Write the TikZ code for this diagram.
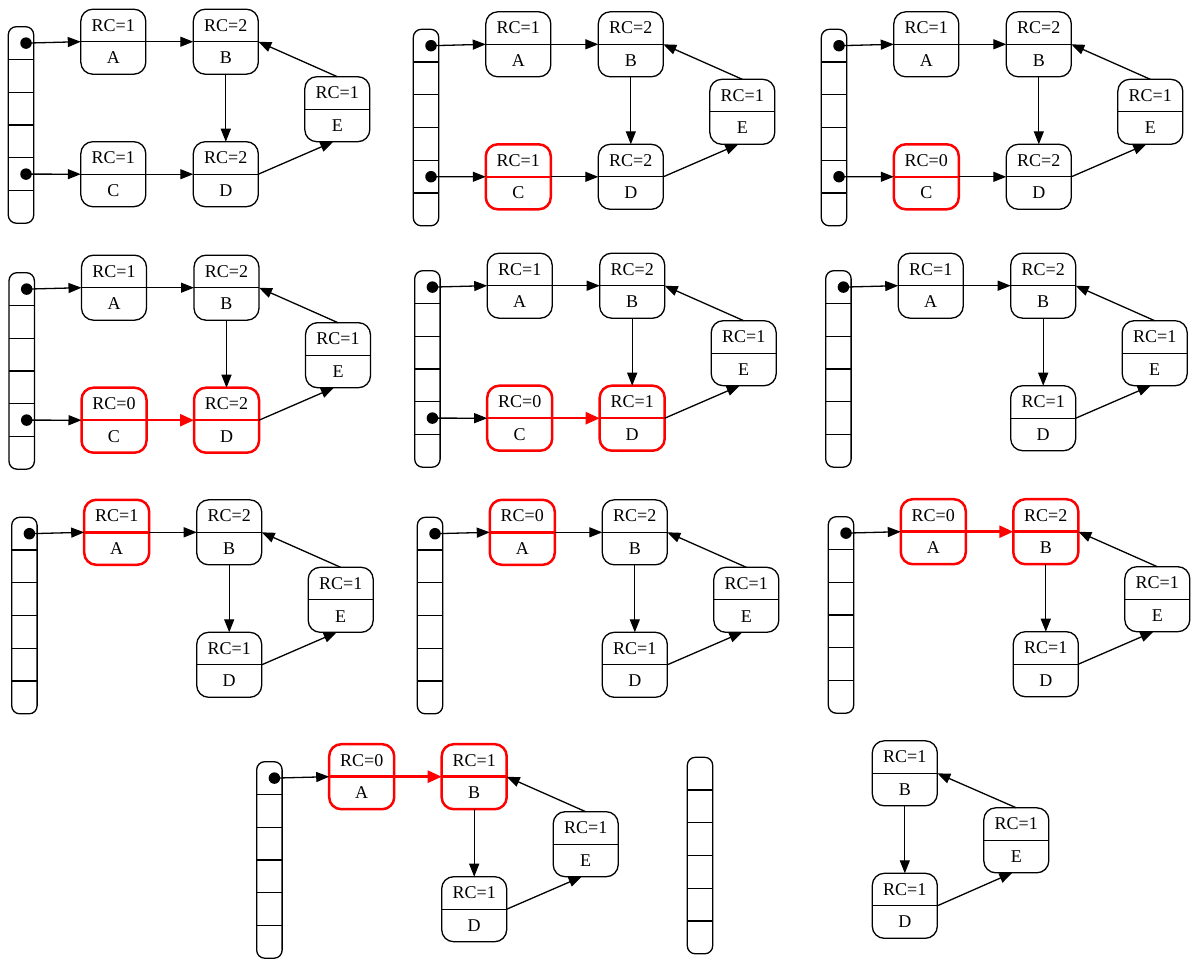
\documentclass[tikz,border=0pt]{standalone}
\usepackage{fontspec}
\setmainfont{Liberation Serif}
\usetikzlibrary{arrows.meta}

\tikzset{
  thinline/.style={draw=black, line width=1.2pt},
  rcplain/.style={draw=black, line width=1.3pt},
  rchot/.style={draw=red, line width=2.5pt},
  recbox/.style={rectangle, rounded corners=12pt, minimum width=65pt,
    minimum height=65pt, inner sep=0pt, outer sep=0pt},
  rctext/.style={font=\fontsize{18}{20}\selectfont, inner sep=0pt},
  stackbox/.style={rectangle, draw=black, line width=1.3pt, rounded corners=8pt,
    minimum width=25.4pt, minimum height=196.5pt, inner sep=0pt, outer sep=0pt},
  socket/.style={circle, fill=black, minimum size=11.5pt, inner sep=0pt},
  link/.style={draw=black, line width=1.3pt, -{Triangle[length=13pt,width=10pt]}},
  hotlink/.style={draw=red, line width=2.5pt, -{Triangle[length=14pt,width=12pt]}},
}

% reference-count record: name, centre, count line, label, border style
\newcommand\rcnode[5]{%
  \node[recbox,#5] (#1) at (#2) {};
  \draw[#5] (#1.west) -- (#1.east);
  \node[rctext] (#1t) at ([yshift=16.3pt]#1.center) {#3};
  \node[rctext] (#1b) at ([yshift=-16.3pt]#1.center) {#4};
}

% root stack of six slots: prefix
\newcommand\rootstack[1]{%
  \node[stackbox] (#1s) at (12.7,98.25) {};
  \foreach \k in {1,...,5} \draw[thinline] (0,32.75*\k) -- (25.4,32.75*\k);
}

\begin{document}
\begin{tikzpicture}[x=1pt,y=-1pt]
\useasboundingbox (0,0) rectangle (1200,980);

% ---- panel 1
\begin{scope}[shift={(8.3,26.7)}]
  \rootstack{p1}
  \node[socket] (p1d1) at (17.7,16.4) {};
  \node[socket] (p1d2) at (17.7,147.4) {};
  \rcnode{p1A}{105,15}{RC=1}{A}{rcplain}
  \rcnode{p1B}{217.5,15}{RC=2}{B}{rcplain}
  \rcnode{p1C}{105,147.5}{RC=1}{C}{rcplain}
  \rcnode{p1D}{217.5,147.5}{RC=2}{D}{rcplain}
  \rcnode{p1E}{329,82.5}{RC=1}{E}{rcplain}
  \draw[link] (p1d1.center) -- (p1A.west);
  \draw[link] (p1d2.center) -- (p1C.west);
  \draw[link] (p1A.east) -- (p1B.west);
  \draw[link] (p1C.east) -- (p1D.west);
  \draw[link] (p1B.south) -- (p1D.north);
  \draw[link] (p1E.north) -- (p1B.east);
  \draw[link] (p1D.east) -- (p1E.-97);
\end{scope}

% ---- panel 2
\begin{scope}[shift={(413.3,29.3)}]
  \rootstack{p2}
  \node[socket] (p2d1) at (17.7,16.4) {};
  \node[socket] (p2d2) at (17.7,147.4) {};
  \rcnode{p2A}{105,15}{RC=1}{A}{rcplain}
  \rcnode{p2B}{217.5,15}{RC=2}{B}{rcplain}
  \rcnode{p2C}{105,147.5}{RC=1}{C}{rchot}
  \rcnode{p2D}{217.5,147.5}{RC=2}{D}{rcplain}
  \rcnode{p2E}{329,82.5}{RC=1}{E}{rcplain}
  \draw[link] (p2d1.center) -- (p2A.west);
  \draw[link] (p2d2.center) -- (p2C.west);
  \draw[link] (p2A.east) -- (p2B.west);
  \draw[link] (p2C.east) -- (p2D.west);
  \draw[link] (p2B.south) -- (p2D.north);
  \draw[link] (p2E.north) -- (p2B.east);
  \draw[link] (p2D.east) -- (p2E.-97);
\end{scope}

% ---- panel 3
\begin{scope}[shift={(821.3,29.3)}]
  \rootstack{p3}
  \node[socket] (p3d1) at (17.7,16.4) {};
  \node[socket] (p3d2) at (17.7,147.4) {};
  \rcnode{p3A}{105,15}{RC=1}{A}{rcplain}
  \rcnode{p3B}{217.5,15}{RC=2}{B}{rcplain}
  \rcnode{p3C}{105,147.5}{RC=0}{C}{rchot}
  \rcnode{p3D}{217.5,147.5}{RC=2}{D}{rcplain}
  \rcnode{p3E}{329,82.5}{RC=1}{E}{rcplain}
  \draw[link] (p3d1.center) -- (p3A.west);
  \draw[link] (p3d2.center) -- (p3C.west);
  \draw[link] (p3A.east) -- (p3B.west);
  \draw[link] (p3C.east) -- (p3D.west);
  \draw[link] (p3B.south) -- (p3D.north);
  \draw[link] (p3E.north) -- (p3B.east);
  \draw[link] (p3D.east) -- (p3E.-97);
\end{scope}

% ---- panel 4
\begin{scope}[shift={(9,272.7)}]
  \rootstack{p4}
  \node[socket] (p4d1) at (17.7,16.4) {};
  \node[socket] (p4d2) at (17.7,147.4) {};
  \rcnode{p4A}{105,15}{RC=1}{A}{rcplain}
  \rcnode{p4B}{217.5,15}{RC=2}{B}{rcplain}
  \rcnode{p4C}{105,147.5}{RC=0}{C}{rchot}
  \rcnode{p4D}{217.5,147.5}{RC=2}{D}{rchot}
  \rcnode{p4E}{329,82.5}{RC=1}{E}{rcplain}
  \draw[link] (p4d1.center) -- (p4A.west);
  \draw[link] (p4d2.center) -- (p4C.west);
  \draw[link] (p4A.east) -- (p4B.west);
  \draw[hotlink] (p4C.east) -- (p4D.west);
  \draw[link] (p4B.south) -- (p4D.north);
  \draw[link] (p4E.north) -- (p4B.east);
  \draw[link] (p4D.east) -- (p4E.-97);
\end{scope}

% ---- panel 5
\begin{scope}[shift={(414.7,270.7)}]
  \rootstack{p5}
  \node[socket] (p5d1) at (17.7,16.4) {};
  \node[socket] (p5d2) at (17.7,147.4) {};
  \rcnode{p5A}{105,15}{RC=1}{A}{rcplain}
  \rcnode{p5B}{217.5,15}{RC=2}{B}{rcplain}
  \rcnode{p5C}{105,147.5}{RC=0}{C}{rchot}
  \rcnode{p5D}{217.5,147.5}{RC=1}{D}{rchot}
  \rcnode{p5E}{329,82.5}{RC=1}{E}{rcplain}
  \draw[link] (p5d1.center) -- (p5A.west);
  \draw[link] (p5d2.center) -- (p5C.west);
  \draw[link] (p5A.east) -- (p5B.west);
  \draw[hotlink] (p5C.east) -- (p5D.west);
  \draw[link] (p5B.south) -- (p5D.north);
  \draw[link] (p5E.north) -- (p5B.east);
  \draw[link] (p5D.east) -- (p5E.-97);
\end{scope}

% ---- panel 6
\begin{scope}[shift={(825.7,270.7)}]
  \rootstack{p6}
  \node[socket] (p6d1) at (17.7,16.4) {};
  \rcnode{p6A}{105,15}{RC=1}{A}{rcplain}
  \rcnode{p6B}{217.5,15}{RC=2}{B}{rcplain}
  \rcnode{p6D}{217.5,147.5}{RC=1}{D}{rcplain}
  \rcnode{p6E}{329,82.5}{RC=1}{E}{rcplain}
  \draw[link] (p6d1.center) -- (p6A.west);
  \draw[link] (p6A.east) -- (p6B.west);
  \draw[link] (p6B.south) -- (p6D.north);
  \draw[link] (p6E.north) -- (p6B.east);
  \draw[link] (p6D.east) -- (p6E.-97);
\end{scope}

% ---- panel 7
\begin{scope}[shift={(11.7,517.3)}]
  \rootstack{p7}
  \node[socket] (p7d1) at (17.7,16.4) {};
  \rcnode{p7A}{105,15}{RC=1}{A}{rchot}
  \rcnode{p7B}{217.5,15}{RC=2}{B}{rcplain}
  \rcnode{p7D}{217.5,147.5}{RC=1}{D}{rcplain}
  \rcnode{p7E}{329,82.5}{RC=1}{E}{rcplain}
  \draw[link] (p7d1.center) -- (p7A.west);
  \draw[link] (p7A.east) -- (p7B.west);
  \draw[link] (p7B.south) -- (p7D.north);
  \draw[link] (p7E.north) -- (p7B.east);
  \draw[link] (p7D.east) -- (p7E.-97);
\end{scope}

% ---- panel 8
\begin{scope}[shift={(417.3,517.3)}]
  \rootstack{p8}
  \node[socket] (p8d1) at (17.7,16.4) {};
  \rcnode{p8A}{105,15}{RC=0}{A}{rchot}
  \rcnode{p8B}{217.5,15}{RC=2}{B}{rcplain}
  \rcnode{p8D}{217.5,147.5}{RC=1}{D}{rcplain}
  \rcnode{p8E}{329,82.5}{RC=1}{E}{rcplain}
  \draw[link] (p8d1.center) -- (p8A.west);
  \draw[link] (p8A.east) -- (p8B.west);
  \draw[link] (p8B.south) -- (p8D.north);
  \draw[link] (p8E.north) -- (p8B.east);
  \draw[link] (p8D.east) -- (p8E.-97);
\end{scope}

% ---- panel 9
\begin{scope}[shift={(828.3,516.7)}]
  \rootstack{p9}
  \node[socket] (p9d1) at (17.7,16.4) {};
  \rcnode{p9A}{105,15}{RC=0}{A}{rchot}
  \rcnode{p9B}{217.5,15}{RC=2}{B}{rchot}
  \rcnode{p9D}{217.5,147.5}{RC=1}{D}{rcplain}
  \rcnode{p9E}{329,82.5}{RC=1}{E}{rcplain}
  \draw[link] (p9d1.center) -- (p9A.west);
  \draw[hotlink] (p9A.east) -- (p9B.west);
  \draw[link] (p9B.south) -- (p9D.north);
  \draw[link] (p9E.north) -- (p9B.east);
  \draw[link] (p9D.east) -- (p9E.-97);
\end{scope}

% ---- panel 10
\begin{scope}[shift={(256.7,761.7)}]
  \rootstack{p10}
  \node[socket] (p10d1) at (17.7,16.4) {};
  \rcnode{p10A}{105,15}{RC=0}{A}{rchot}
  \rcnode{p10B}{217.5,15}{RC=1}{B}{rchot}
  \rcnode{p10D}{217.5,147.5}{RC=1}{D}{rcplain}
  \rcnode{p10E}{329,82.5}{RC=1}{E}{rcplain}
  \draw[link] (p10d1.center) -- (p10A.west);
  \draw[hotlink] (p10A.east) -- (p10B.west);
  \draw[link] (p10B.south) -- (p10D.north);
  \draw[link] (p10E.north) -- (p10B.east);
  \draw[link] (p10D.east) -- (p10E.-97);
\end{scope}

% ---- panel 11
\begin{scope}[shift={(687.3,757.3)}]
  \rootstack{p11}
  \rcnode{p11B}{217.5,16}{RC=1}{B}{rcplain}
  \rcnode{p11D}{217.5,148.5}{RC=1}{D}{rcplain}
  \rcnode{p11E}{329,83}{RC=1}{E}{rcplain}
  \draw[link] (p11B.south) -- (p11D.north);
  \draw[link] (p11E.north) -- (p11B.east);
  \draw[link] (p11D.east) -- (p11E.-97);
\end{scope}
\end{tikzpicture}
\end{document}
